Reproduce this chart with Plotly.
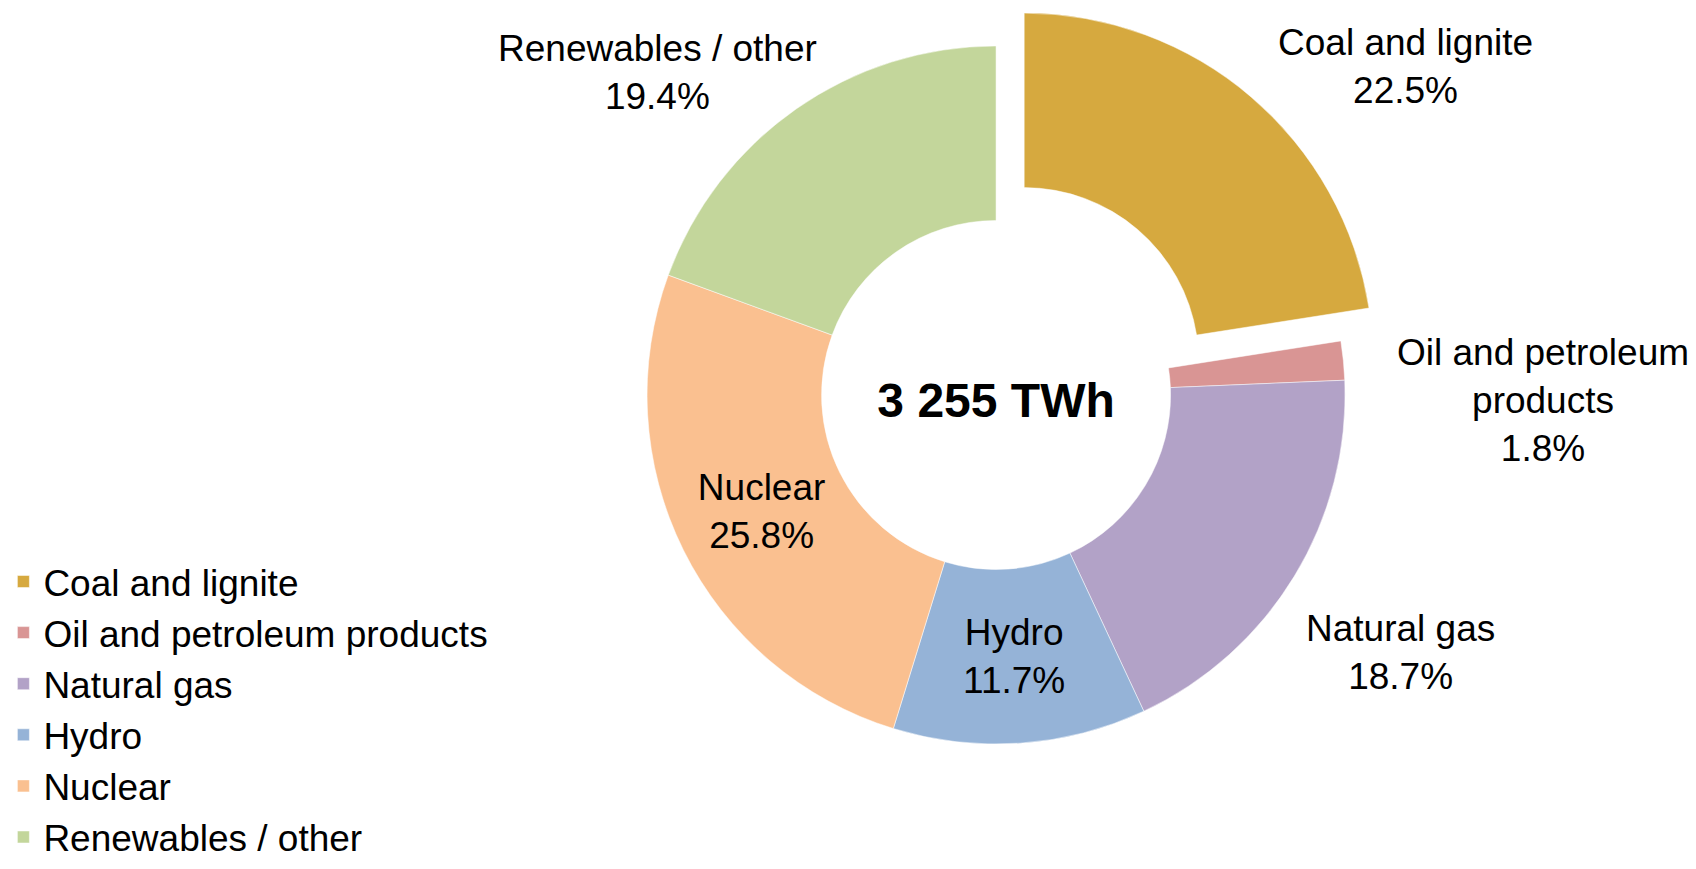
"""Electricity generation mix donut chart"""
import plotly.graph_objects as go

# data
sources = ["Coal and lignite", "Oil and petroleum products", "Natural gas",
           "Hydro", "Nuclear", "Renewables / other"]
shares = [22.5, 1.8, 18.7, 11.7, 25.8, 19.4]
total_label = "3 255 TWh"

# styling
colors = ["#D6A93F", "#D99594", "#B2A2C7", "#95B3D7", "#FAC090", "#C3D69B"]
pulls = [0.124, 0, 0, 0, 0, 0]
inside = {"Hydro", "Nuclear"}
FONT = "Arial, Liberation Sans, sans-serif"

# outside label placement (paper coords) and line breaks
outside_pos = {
    "Coal and lignite": (0.829, 0.924),
    "Oil and petroleum products": (0.9098, 0.5397),
    "Natural gas": (0.826, 0.2486),
    "Renewables / other": (0.3874, 0.916),
}
label_text = {"Oil and petroleum products": "Oil and petroleum<br>products"}

texts = [f"{s}<br>{v:.1f}%" if s in inside else "" for s, v in zip(sources, shares)]

fig = go.Figure(go.Pie(
    labels=sources,
    values=shares,
    hole=0.5,
    sort=False,
    direction="clockwise",
    rotation=0,
    pull=pulls,
    marker=dict(colors=colors, line=dict(color="white", width=0.5)),
    text=texts,
    textinfo="text",
    textposition="inside",
    insidetextorientation="horizontal",
    insidetextfont=dict(family=FONT, size=37, color="black"),
    hoverinfo="skip",
    title=dict(text=f"<b>{total_label}</b>", position="middle center",
               font=dict(family=FONT, size=48, color="black")),
    domain=dict(x=[0.356, 0.8186], y=[0.094, 0.9969]),
))

annotations = []
for s, v in zip(sources, shares):
    if s in outside_pos:
        x, y = outside_pos[s]
        annotations.append(dict(
            x=x, y=y, xref="paper", yref="paper",
            text=f"{label_text.get(s, s)}<br>{v:.1f}%",
            showarrow=False, align="center",
            xanchor="center", yanchor="middle",
            font=dict(family=FONT, size=37, color="black"),
        ))

fig.update_layout(
    width=1696,
    height=869,
    margin=dict(l=0, r=0, t=0, b=0),
    paper_bgcolor="white",
    plot_bgcolor="white",
    annotations=annotations,
    legend=dict(
        x=0.002, xanchor="left",
        y=0.366, yanchor="top",
        font=dict(family=FONT, size=37, color="black"),
        bgcolor="rgba(0,0,0,0)",
    ),
)

# page body has a default margin; drop it so the figure fills the window
fig.write_html("out.html", config={"displayModeBar": False},
               post_script="document.body.style.margin='0';")
